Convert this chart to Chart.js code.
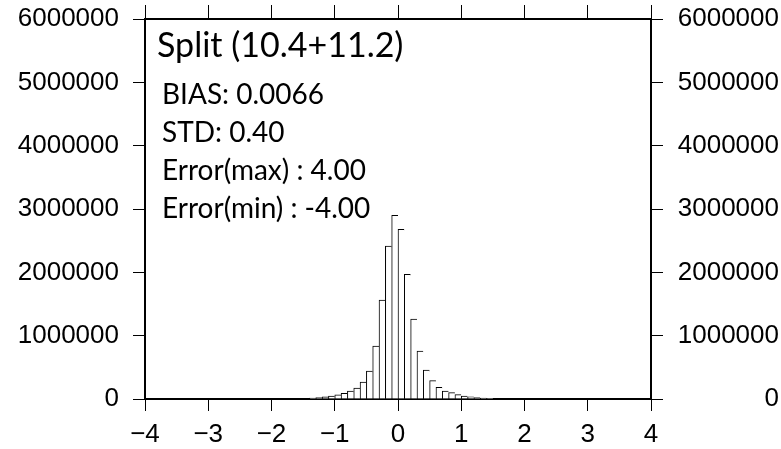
<!DOCTYPE html>
<html><head><meta charset="utf-8">
<style>html,body{margin:0;padding:0;background:#fff}</style>
<script src="https://cdn.jsdelivr.net/npm/chart.js@4/dist/chart.umd.min.js"></script>
</head><body>
<canvas id="c" width="781" height="449"></canvas>
<script>
// Histogram bins (centre of each 0.1-wide bin) and counts
const binCenters = [-1.35,-1.25,-1.15,-1.05,-0.95,-0.85,-0.75,-0.65,-0.55,-0.45,-0.35,-0.25,-0.15,-0.05,
                    0.05,0.15,0.25,0.35,0.45,0.55,0.65,0.75,0.85,0.95,1.05,1.15,1.25,1.35,1.45];
const binCounts = [14000,21000,33000,47000,64000,89000,125000,172000,266000,440000,837000,1560000,2415000,2900000,
                   2680000,1970000,1262000,758000,455000,290000,184000,125000,100000,70000,47000,36000,22000,16000,11000];
const xTickValues = [-4,-3,-2,-1,0,1,2,3,4];
const yTickValues = [0,1000000,2000000,3000000,4000000,5000000,6000000];
const titleText = 'Split (10.4+11.2)';
const statLines = ['BIAS: 0.0066','STD: 0.40','Error(max) : 4.00','Error(min) : -4.00'];

const tickFont = {family: 'Liberation Sans', size: 26};
const statsPlugin = {
  id: 'stats',
  afterDatasetsDraw(chart) {
    const {ctx, chartArea} = chart;
    ctx.save();
    ctx.fillStyle = '#000';
    ctx.textBaseline = 'alphabetic';
    ctx.textAlign = 'left';
    ctx.font = '34px Lato';
    ctx.fillText(titleText, chartArea.left + 12, chartArea.top + 38);
    ctx.font = '28px Lato';
    statLines.forEach((t, i) => ctx.fillText(t, chartArea.left + 17, chartArea.top + 85 + 38 * i));
    ctx.restore();
  }
};
const gridCfg = (len) => ({drawOnChartArea: false, drawTicks: true, tickLength: len, color: '#000', lineWidth: 1, offset: false});
const borderCfg = {display: true, color: '#000', width: 2};
const setX = s => { s.ticks = xTickValues.map(v => ({value: v})); };
const setY = s => { s.ticks = yTickValues.map(v => ({value: v})); };
const noPad = s => { s.paddingTop = 0; s.paddingBottom = 0; s.paddingLeft = 0; s.paddingRight = 0; };

new Chart(document.getElementById('c'), {
  type: 'bar',
  data: {
    datasets: [{
      data: binCenters.map((x, i) => ({x: x, y: binCounts[i]})),
      backgroundColor: '#fff',
      borderColor: '#000',
      borderWidth: {top: 1, left: 1, right: 0, bottom: 0},
      borderSkipped: false,
      barPercentage: 1,
      categoryPercentage: 1
    }]
  },
  options: {
    responsive: false,
    animation: false,
    layout: {padding: {left: 0, right: 2, top: 0, bottom: 0}},
    plugins: {legend: {display: false}, tooltip: {enabled: false}},
    scales: {
      x: {
        type: 'linear', position: 'bottom', min: -4, max: 4, offset: false,
        afterBuildTicks: setX,
        afterFit: s => { s.height = 50; noPad(s); },
        ticks: {color: '#000', font: tickFont, padding: 8, maxRotation: 0,
                callback: v => String(v).replace('-', '\u2212')},
        grid: gridCfg(12), border: borderCfg
      },
      x2: {
        type: 'linear', position: 'top', min: -4, max: 4, offset: false,
        afterBuildTicks: setX,
        afterFit: s => { s.height = 19; noPad(s); },
        ticks: {display: false},
        grid: gridCfg(14), border: borderCfg
      },
      y: {
        type: 'linear', position: 'left', min: 0, max: 6000000,
        afterBuildTicks: setY,
        afterFit: s => { s.width = 145; noPad(s); },
        ticks: {color: '#000', font: tickFont, padding: 14, callback: v => String(v)},
        grid: gridCfg(12), border: borderCfg
      },
      y2: {
        type: 'linear', position: 'right', min: 0, max: 6000000,
        afterBuildTicks: setY,
        afterFit: s => { s.width = 128; noPad(s); },
        ticks: {color: '#000', font: tickFont, padding: 14, crossAlign: 'far', callback: v => String(v)},
        grid: gridCfg(12), border: borderCfg
      }
    }
  },
  plugins: [statsPlugin]
});
</script>
</body></html>
